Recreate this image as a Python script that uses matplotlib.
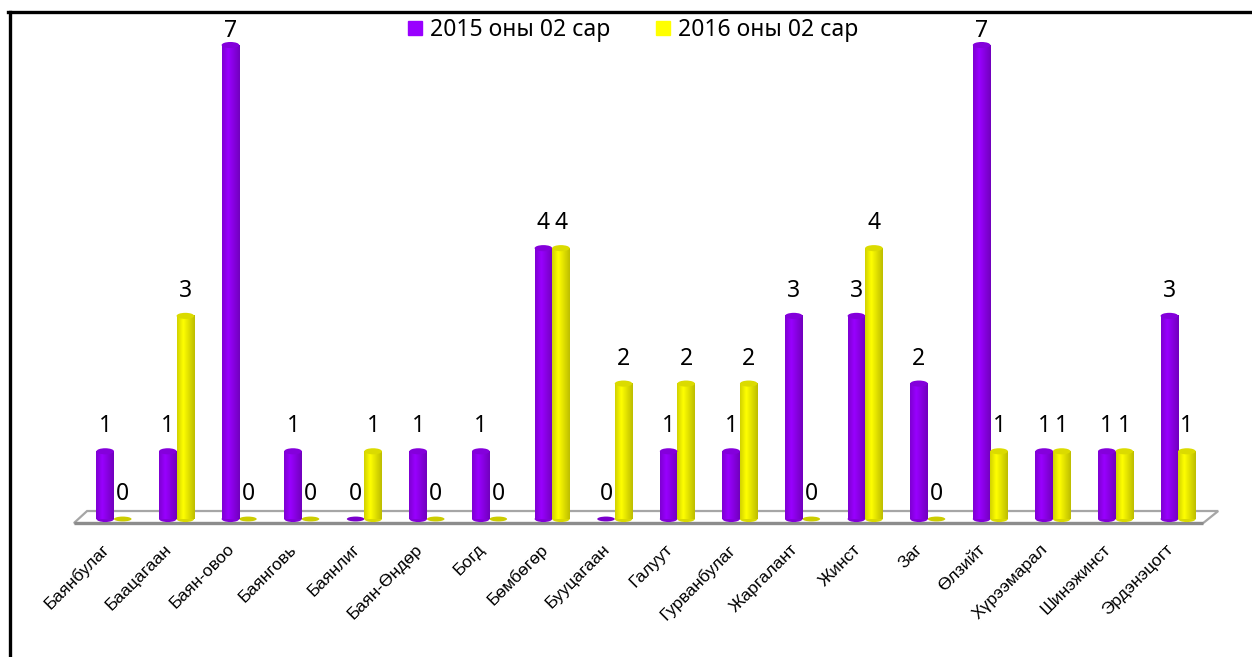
"""
Cylinder-style grouped bar chart: 2015 vs 2016, February, by soum.
"""

import numpy as np
import matplotlib

matplotlib.use("Agg")
import matplotlib.pyplot as plt
from matplotlib.colors import to_rgb
from matplotlib.lines import Line2D
from matplotlib.patches import Ellipse, Polygon

plt.rcParams["font.family"] = ["Noto Sans", "DejaVu Sans"]

CATEGORIES = [
    "Баянбулаг", "Баацагаан", "Баян-овоо", "Баянговь", "Баянлиг", "Баян-Өндөр",
    "Богд", "Бөмбөгөр", "Бууцагаан", "Галуут", "Гурванбулаг", "Жаргалант",
    "Жинст", "Заг", "Өлзийт", "Хүрээмарал", "Шинэжинст", "Эрдэнэцогт",
]
VALUES_2015 = [1, 1, 7, 1, 0, 1, 1, 4, 0, 1, 1, 3, 3, 2, 7, 1, 1, 3]
VALUES_2016 = [0, 3, 0, 0, 1, 0, 0, 4, 2, 2, 2, 0, 4, 0, 1, 1, 1, 1]
SERIES = ["2015 оны 02 сар", "2016 оны 02 сар"]
COLORS = ["#9900FF", "#FFFF00"]

BAR_W = 0.28
CAP_H = 0.09
LABEL_GAP = 0.37   # data units above the cylinder top
LABEL_TOP = 7.2    # labels are kept inside the plot area


def cylinder(ax, x, v, color):
    rgb = np.array(to_rgb(color))
    if v <= 0:
        ax.add_patch(Ellipse((x, 0), BAR_W, CAP_H * 0.8, facecolor=rgb * 0.8,
                             edgecolor="none", zorder=3))
        return
    t = np.linspace(0, 1, 64)
    light = np.interp(t, [0, 0.35, 1], [0.82, 1.0, 0.74])
    img = (rgb[None, None, :] * light[None, :, None]).clip(0, 1)
    ax.add_patch(Ellipse((x, 0), BAR_W, CAP_H, facecolor=rgb * 0.85,
                         edgecolor="none", zorder=3))
    ax.imshow(img, extent=[x - BAR_W / 2, x + BAR_W / 2, 0, v], aspect="auto",
              interpolation="bilinear", zorder=4)
    ax.add_patch(Ellipse((x, v), BAR_W, CAP_H, facecolor=rgb * 0.86,
                         edgecolor="none", zorder=5))


def main() -> None:
    fig = plt.figure(figsize=(12.52, 6.57), dpi=100)
    ax = fig.add_axes([0, 0, 1, 1])
    ax.set_axis_off()

    n = len(CATEGORIES)
    x = np.arange(n)

    # floor of the 3D chart
    floor = Polygon([(-0.64, -0.06), (17.40, -0.06), (17.64, 0.118), (-0.43, 0.118)],
                    closed=True, facecolor="white", edgecolor="#a6a6a6", lw=1.6, zorder=1)
    ax.add_patch(floor)
    ax.plot([-0.64, 17.40], [-0.06, -0.06], color="#8c8c8c", lw=2.4, zorder=1.5,
            solid_capstyle="butt")

    for vals, color, off in [(VALUES_2015, COLORS[0], -BAR_W / 2), (VALUES_2016, COLORS[1], BAR_W / 2)]:
        for xi, v in zip(x, vals):
            cylinder(ax, xi + off, v, color)
            ax.text(xi + off, min(v + LABEL_GAP, LABEL_TOP), str(v),
                    ha="center", va="center", fontsize=16.5, zorder=6)

    for xi, name in zip(x, CATEGORIES):
        ax.text(xi - 0.2, -0.33, name, rotation=45, ha="right", va="top",
                rotation_mode="anchor", fontsize=12.5, family=["Liberation Sans", "DejaVu Sans"])

    ax.set_xlim(-1.821, 18.18)
    ax.set_ylim(-2.038, 7.665)

    handles = [Line2D([], [], marker="s", linestyle="none", markersize=9.5,
                      markerfacecolor=c, markeredgecolor=c) for c in COLORS]
    fig.legend(handles, SERIES, loc="center", bbox_to_anchor=(0.505, 0.954), ncol=2,
               frameon=False, fontsize=16.5, handletextpad=0.25, columnspacing=1.9,
               handlelength=0.8)

    # page border (left and top)
    fig.add_artist(Line2D([0.0080, 0.0080], [0.0, 0.982], transform=fig.transFigure,
                          color="black", lw=2.4))
    fig.add_artist(Line2D([0.0064, 1.0], [0.982, 0.982], transform=fig.transFigure,
                          color="black", lw=2.4))

    fig.savefig("out.png", dpi=100)
    plt.close(fig)


if __name__ == "__main__":
    main()
